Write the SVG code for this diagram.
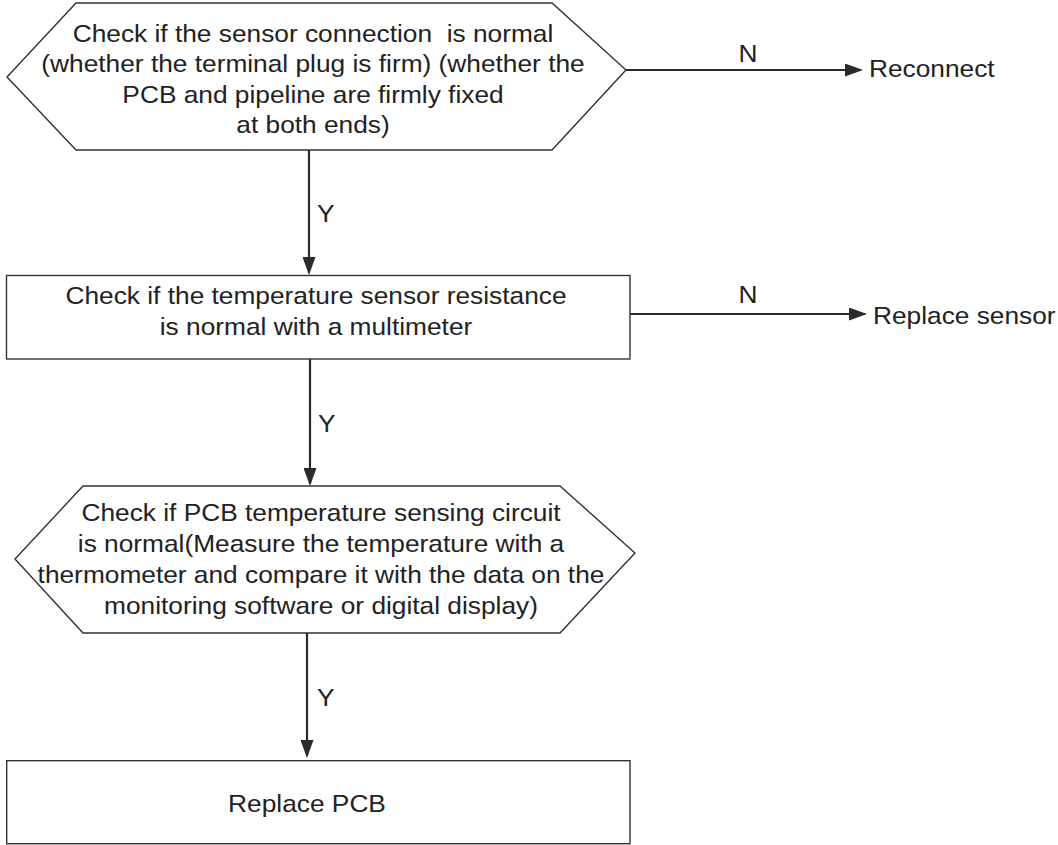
<svg xmlns="http://www.w3.org/2000/svg" width="1058" height="845" viewBox="0 0 1058 845">
<style>
.shape{fill:#fff;stroke:#333;stroke-width:1.4}
.t{font-family:"Liberation Sans",Arial,sans-serif;font-size:24px;fill:#222;text-anchor:middle;white-space:pre}
.l{font-family:"Liberation Sans",Arial,sans-serif;font-size:24px;fill:#222;white-space:pre}
.c{stroke:#2b2b2b;stroke-width:2.2;fill:none;marker-end:url(#ah)}
</style>
<defs>
<marker id="ah" markerUnits="userSpaceOnUse" markerWidth="18" markerHeight="13" refX="16" refY="6.5" orient="auto">
<path d="M0,0 L18,6.5 L0,13 z" fill="#2b2b2b"/>
</marker>
</defs>
<rect width="1058" height="845" fill="#fff"/>
<g id="connectors">
<line class="c" x1="309" y1="150" x2="309" y2="273"/>
<line class="c" x1="626" y1="70" x2="861" y2="70"/>
<line class="c" x1="310" y1="359" x2="310" y2="484"/>
<line class="c" x1="630" y1="314" x2="865" y2="314"/>
<line class="c" x1="307" y1="633" x2="307" y2="756"/>
<text class="l" transform="translate(748,62) scale(1.096,1)" text-anchor="middle">N</text>
<text class="l" transform="translate(748,303) scale(1.096,1)" text-anchor="middle">N</text>
<text class="l" transform="translate(317,222) scale(1.096,1)">Y</text>
<text class="l" transform="translate(318,432) scale(1.096,1)">Y</text>
<text class="l" transform="translate(317,706) scale(1.096,1)">Y</text>
</g>
<g id="n1">
<polygon class="shape" points="76,3 552,3 626,70 552,150 76,150 7,77"/>
<text class="t" transform="translate(313,0) scale(1.096,1)"><tspan x="0" y="42">Check if the sensor connection  is normal</tspan><tspan x="0" y="72.3">(whether the terminal plug is firm) (whether the</tspan><tspan x="0" y="102.7">PCB and pipeline are firmly fixed</tspan><tspan x="0" y="133">at both ends)</tspan></text>
</g>
<g id="reconnect">
<text class="l" transform="translate(869,77) scale(1.096,1)">Reconnect</text>
</g>
<g id="n2">
<rect class="shape" x="6.5" y="275.5" width="623.5" height="83.5"/>
<text class="t" transform="translate(316,0) scale(1.096,1)"><tspan x="0" y="304">Check if the temperature sensor resistance</tspan><tspan x="0" y="335">is normal with a multimeter</tspan></text>
</g>
<g id="replace-sensor">
<text class="l" transform="translate(873,324) scale(1.096,1)">Replace sensor</text>
</g>
<g id="n3">
<polygon class="shape" points="83,486 560,486 635,553 560,633 83,633 15,559"/>
<text class="t" transform="translate(321,0) scale(1.096,1)"><tspan x="0" y="521">Check if PCB temperature sensing circuit</tspan><tspan x="0" y="552">is normal(Measure the temperature with a</tspan><tspan x="0" y="583">thermometer and compare it with the data on the</tspan><tspan x="0" y="614">monitoring software or digital display)</tspan></text>
</g>
<g id="n4">
<rect class="shape" x="6.7" y="760.7" width="623.3" height="83"/>
<text class="t" transform="translate(307,812) scale(1.096,1)">Replace PCB</text>
</g>
</svg>
